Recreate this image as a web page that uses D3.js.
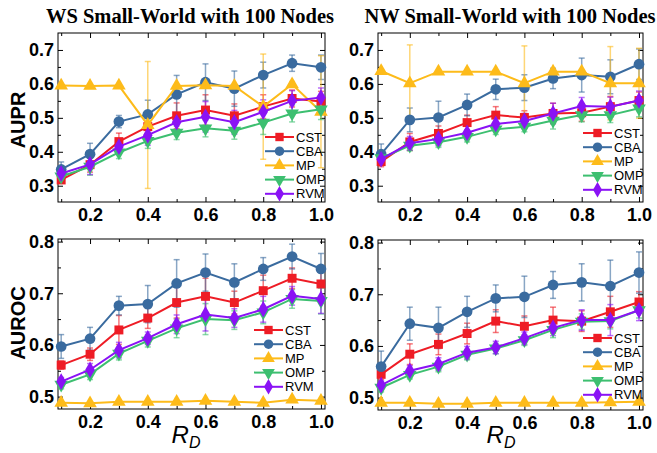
<!DOCTYPE html>
<html>
<head>
<meta charset="utf-8">
<script src="https://cdn.jsdelivr.net/npm/d3@7"></script>
<style>
  body { margin: 0; background: #fff; }
  svg { display: block; }
  .tick text { font-family: "Liberation Sans", Arial, sans-serif; font-weight: bold; font-size: 18px; }
</style>
</head>
<body>
<svg width="657" height="453"></svg>
<script>
const svg = d3.select("svg");

const rd = [0.1, 0.2, 0.3, 0.4, 0.5, 0.6, 0.7, 0.8, 0.9, 1.0];
const methods = ["CST", "CBA", "MP", "OMP", "RVM"];
const colors = ["#ee1c25", "#3a6b9f", "#fdbb1a", "#3dbf70", "#8a12f5"];
const symbols = [d3.symbolSquare, d3.symbolCircle, d3.symbolTriangle, d3.symbolTriangle, d3.symbolDiamond];
const titles = ["WS Small-World with 100 Nodes", "NW Small-World with 100 Nodes"];
const yLabels = ["AUPR", "AUROC"];
const auprTicks = [0.3, 0.4, 0.5, 0.6, 0.7];
const aurocTicks = [0.5, 0.6, 0.7, 0.8];

// mean values, series order: CST, CBA, MP, OMP, RVM
const wsAupr = [
  [0.317, 0.362, 0.430, 0.474, 0.506, 0.523, 0.506, 0.533, 0.557, 0.548],
  [0.348, 0.393, 0.489, 0.510, 0.569, 0.605, 0.586, 0.626, 0.661, 0.649],
  [0.595, 0.594, 0.595, 0.479, 0.594, 0.596, 0.594, 0.533, 0.599, 0.518],
  [0.327, 0.356, 0.398, 0.432, 0.456, 0.469, 0.462, 0.486, 0.513, 0.525],
  [0.336, 0.363, 0.415, 0.449, 0.487, 0.503, 0.487, 0.518, 0.550, 0.560]
];
const wsAuprErr = [
  [0.008, 0.022, 0.025, 0.030, 0.038, 0.045, 0.035, 0.035, 0.025, 0.030],
  [0.022, 0.032, 0.018, 0.042, 0.056, 0.054, 0.052, 0.038, 0.024, 0.036],
  [0.003, 0.003, 0.003, 0.187, 0.004, 0.004, 0.004, 0.155, 0.008, 0.165],
  [0.012, 0.025, 0.018, 0.022, 0.020, 0.025, 0.025, 0.035, 0.025, 0.030],
  [0.018, 0.030, 0.020, 0.030, 0.025, 0.045, 0.035, 0.035, 0.030, 0.028]
];
const nwAupr = [
  [0.371, 0.429, 0.454, 0.486, 0.508, 0.501, 0.513, 0.515, 0.533, 0.551],
  [0.393, 0.494, 0.501, 0.538, 0.584, 0.589, 0.616, 0.626, 0.621, 0.658],
  [0.638, 0.602, 0.636, 0.636, 0.636, 0.602, 0.636, 0.636, 0.602, 0.602],
  [0.381, 0.418, 0.428, 0.444, 0.466, 0.474, 0.492, 0.508, 0.508, 0.528],
  [0.378, 0.425, 0.438, 0.456, 0.482, 0.491, 0.513, 0.535, 0.533, 0.551]
];
const nwAuprErr = [
  [0.015, 0.025, 0.022, 0.022, 0.025, 0.020, 0.030, 0.025, 0.030, 0.025],
  [0.030, 0.035, 0.048, 0.032, 0.030, 0.038, 0.030, 0.050, 0.050, 0.045],
  [0.004, 0.113, 0.004, 0.004, 0.004, 0.110, 0.004, 0.004, 0.108, 0.103],
  [0.012, 0.015, 0.015, 0.015, 0.015, 0.015, 0.025, 0.020, 0.022, 0.025],
  [0.012, 0.020, 0.020, 0.020, 0.020, 0.022, 0.030, 0.025, 0.028, 0.028]
];
const wsAuroc = [
  [0.561, 0.582, 0.629, 0.652, 0.682, 0.694, 0.682, 0.705, 0.729, 0.718],
  [0.597, 0.612, 0.676, 0.679, 0.719, 0.740, 0.721, 0.747, 0.771, 0.747],
  [0.488, 0.487, 0.490, 0.490, 0.490, 0.492, 0.490, 0.488, 0.494, 0.492],
  [0.523, 0.543, 0.583, 0.608, 0.632, 0.650, 0.648, 0.663, 0.689, 0.685],
  [0.529, 0.552, 0.590, 0.613, 0.640, 0.659, 0.652, 0.669, 0.695, 0.689]
];
const wsAurocErr = [
  [0.008, 0.012, 0.028, 0.020, 0.030, 0.035, 0.022, 0.030, 0.020, 0.030],
  [0.023, 0.022, 0.018, 0.036, 0.046, 0.036, 0.036, 0.022, 0.024, 0.030],
  [0.002, 0.002, 0.002, 0.002, 0.002, 0.002, 0.002, 0.002, 0.002, 0.002],
  [0.008, 0.010, 0.012, 0.012, 0.018, 0.030, 0.018, 0.022, 0.018, 0.025],
  [0.008, 0.012, 0.015, 0.012, 0.018, 0.032, 0.018, 0.025, 0.018, 0.028]
];
const nwAuroc = [
  [0.545, 0.584, 0.603, 0.624, 0.648, 0.638, 0.650, 0.648, 0.666, 0.685],
  [0.560, 0.643, 0.635, 0.666, 0.692, 0.695, 0.718, 0.723, 0.716, 0.742],
  [0.490, 0.490, 0.488, 0.488, 0.490, 0.490, 0.490, 0.490, 0.491, 0.492],
  [0.519, 0.544, 0.560, 0.583, 0.595, 0.611, 0.631, 0.647, 0.648, 0.669],
  [0.524, 0.552, 0.565, 0.587, 0.597, 0.615, 0.635, 0.650, 0.650, 0.669]
];
const nwAurocErr = [
  [0.010, 0.020, 0.020, 0.020, 0.022, 0.020, 0.025, 0.020, 0.030, 0.020],
  [0.030, 0.032, 0.040, 0.030, 0.026, 0.040, 0.026, 0.036, 0.050, 0.040],
  [0.002, 0.002, 0.002, 0.002, 0.002, 0.002, 0.002, 0.002, 0.002, 0.002],
  [0.008, 0.008, 0.010, 0.010, 0.010, 0.010, 0.015, 0.015, 0.015, 0.015],
  [0.008, 0.010, 0.012, 0.012, 0.012, 0.012, 0.015, 0.020, 0.030, 0.020]
];

const panels = [
  { x0: 58, x1: 325, y0: 33, y1: 202, ydom: [0.252, 0.75], ticks: auprTicks, mean: wsAupr, err: wsAuprErr, legY: 137, legX: 265 },
  { x0: 378, x1: 643, y0: 33, y1: 202, ydom: [0.252, 0.75], ticks: auprTicks, mean: nwAupr, err: nwAuprErr, legY: 133, legX: 583 },
  { x0: 58, x1: 325, y0: 239, y1: 409, ydom: [0.476, 0.805], ticks: aurocTicks, mean: wsAuroc, err: wsAurocErr, legY: 330, legX: 254 },
  { x0: 378, x1: 643, y0: 240, y1: 410, ydom: [0.476, 0.805], ticks: aurocTicks, mean: nwAuroc, err: nwAurocErr, legY: 338, legX: 583 }
];

function marker(i, size) {
  return d3.symbol().type(symbols[i]).size(size)();
}

panels.forEach(function(p) {
  const x = d3.scaleLinear().domain([0.089, 1.014]).range([p.x0, p.x1]);
  const y = d3.scaleLinear().domain(p.ydom).range([p.y1, p.y0]);
  const g = svg.append("g");

  // minor ticks
  const majorX = [0.2, 0.4, 0.6, 0.8, 1.0];
  const minorX = [0.1, 0.3, 0.5, 0.7, 0.9];
  const minorY = d3.range(p.ticks[0] - 0.05, p.ydom[1], 0.1).filter(v => v > p.ydom[0]);

  g.append("g").attr("transform", `translate(0,${p.y1})`)
    .call(d3.axisBottom(x).tickValues(majorX).tickFormat(d3.format(".1f")).tickSize(-5).tickPadding(6))
    .call(a => a.select(".domain").remove());
  g.append("g").attr("transform", `translate(0,${p.y1})`)
    .call(d3.axisBottom(x).tickValues(minorX).tickFormat("").tickSize(-3))
    .call(a => a.select(".domain").remove());
  g.append("g").attr("transform", `translate(0,${p.y0})`)
    .call(d3.axisTop(x).tickValues(majorX).tickFormat("").tickSize(-5))
    .call(a => a.select(".domain").remove());
  g.append("g").attr("transform", `translate(0,${p.y0})`)
    .call(d3.axisTop(x).tickValues(minorX).tickFormat("").tickSize(-3))
    .call(a => a.select(".domain").remove());

  g.append("g").attr("transform", `translate(${p.x0},0)`)
    .call(d3.axisLeft(y).tickValues(p.ticks).tickFormat(d3.format(".1f")).tickSize(-5).tickPadding(4))
    .call(a => a.select(".domain").remove());
  g.append("g").attr("transform", `translate(${p.x0},0)`)
    .call(d3.axisLeft(y).tickValues(minorY).tickFormat("").tickSize(-3))
    .call(a => a.select(".domain").remove());
  g.append("g").attr("transform", `translate(${p.x1},0)`)
    .call(d3.axisRight(y).tickValues(p.ticks).tickFormat("").tickSize(-5))
    .call(a => a.select(".domain").remove());
  g.append("g").attr("transform", `translate(${p.x1},0)`)
    .call(d3.axisRight(y).tickValues(minorY).tickFormat("").tickSize(-3))
    .call(a => a.select(".domain").remove());

  g.selectAll(".tick line").attr("stroke", "#000").attr("stroke-width", 1);
  g.selectAll(".tick text").attr("fill", "#000");

  g.append("rect")
    .attr("x", p.x0).attr("y", p.y0)
    .attr("width", p.x1 - p.x0).attr("height", p.y1 - p.y0)
    .attr("fill", "none").attr("stroke", "#000").attr("stroke-width", 1);

  const marks = g.append("g");

  // error bars
  methods.forEach(function(m, i) {
    const eb = marks.append("g").attr("stroke", colors[i]).attr("stroke-opacity", 0.6).attr("stroke-width", 1.5);
    rd.forEach(function(r, k) {
      const cx = x(r), lo = y(p.mean[i][k] - p.err[i][k]), hi = y(p.mean[i][k] + p.err[i][k]);
      eb.append("line").attr("x1", cx).attr("x2", cx).attr("y1", lo).attr("y2", hi);
      eb.append("line").attr("x1", cx - 3).attr("x2", cx + 3).attr("y1", lo).attr("y2", lo);
      eb.append("line").attr("x1", cx - 3).attr("x2", cx + 3).attr("y1", hi).attr("y2", hi);
    });
  });

  const line = d3.line().x((d, k) => x(rd[k])).y(d => y(d));
  methods.forEach(function(m, i) {
    marks.append("path").datum(p.mean[i])
      .attr("d", line).attr("fill", "none")
      .attr("stroke", colors[i]).attr("stroke-width", 2);
    marks.selectAll(null).data(p.mean[i]).enter().append("path")
      .attr("d", marker(i, i == 1 ? 90 : 80))
      .attr("transform", (d, k) => `translate(${x(rd[k])},${y(d)})` + (i == 3 ? " rotate(180)" : ""))
      .attr("fill", colors[i]);
  });

  // legend
  const leg = g.append("g");
  methods.forEach(function(m, i) {
    const ly = p.legY + i * 14.2;
    leg.append("line").attr("x1", p.legX).attr("x2", p.legX + 29)
      .attr("y1", ly).attr("y2", ly).attr("stroke", colors[i]).attr("stroke-width", 2);
    leg.append("path").attr("d", marker(i, 70))
      .attr("transform", `translate(${p.legX + 14.5},${ly})` + (i == 3 ? " rotate(180)" : ""))
      .attr("fill", colors[i]);
    leg.append("text").attr("x", p.legX + 31).attr("y", ly + 4.5)
      .attr("font-family", "Liberation Sans, Arial, sans-serif").attr("font-size", 13)
      .text(m);
  });
});

// titles
[190, 510].forEach(function(cx, i) {
  svg.append("text").attr("x", cx).attr("y", 23).attr("text-anchor", "middle")
    .attr("font-family", "Liberation Serif, Times New Roman, serif").attr("font-weight", "bold")
    .attr("font-size", 20.5).text(titles[i]);
});

// y labels
[[120, yLabels[0]], [323, yLabels[1]]].forEach(function(d) {
  svg.append("text").attr("transform", `translate(25,${d[0]}) rotate(-90)`)
    .attr("text-anchor", "middle")
    .attr("font-family", "Liberation Sans, Arial, sans-serif").attr("font-weight", "bold")
    .attr("font-size", 20).text(d[1]);
});

// x labels
[186, 501].forEach(function(cx) {
  const t = svg.append("text").attr("x", cx).attr("y", 443).attr("text-anchor", "middle")
    .attr("font-family", "Liberation Sans, Arial, sans-serif").attr("font-style", "italic")
    .attr("font-size", 24);
  t.append("tspan").text("R");
  t.append("tspan").attr("dy", 5).attr("font-size", 16).text("D");
});
</script>
</body>
</html>
